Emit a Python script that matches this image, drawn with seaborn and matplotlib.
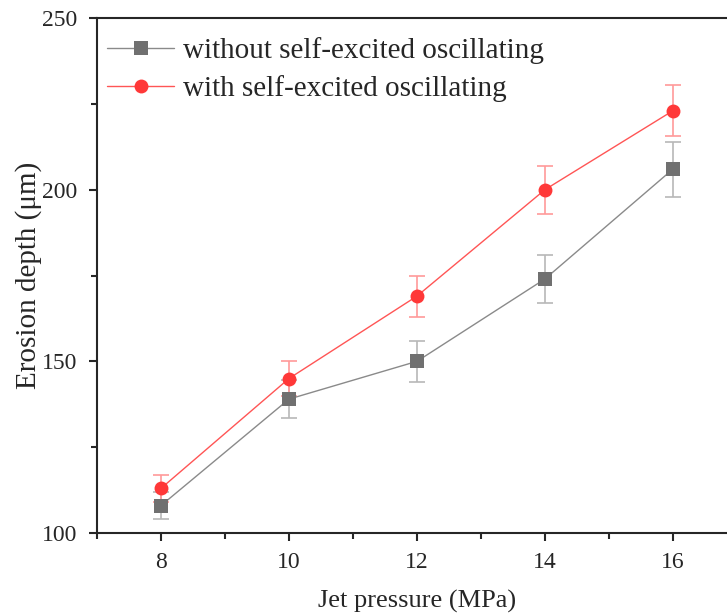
import numpy as np
import pandas as pd
import matplotlib
matplotlib.use("Agg")
import matplotlib.pyplot as plt
from matplotlib.ticker import MultipleLocator
from matplotlib.lines import Line2D
import seaborn as sns

# values
pressure = [8, 10, 12, 14, 16]
depth_without = [108, 139, 150, 174, 206]
err_without = [4, 5.5, 6, 7, 8]
depth_with = [113, 145, 169, 200, 223]
err_with = [4, 5, 6, 7, 7.5]
labels = ["without self-excited oscillating", "with self-excited oscillating"]

df = pd.DataFrame({
    "pressure": pressure * 2,
    "depth": depth_without + depth_with,
    "series": [labels[0]] * 5 + [labels[1]] * 5,
})

sns.set_style("ticks")
plt.rcParams["font.family"] = ["Liberation Serif", "DejaVu Serif"]

fig = plt.figure(figsize=(7.27, 6.16), dpi=100)
ax = fig.add_axes([0.1334, 0.1347, 0.8803, 0.8361])

line_cols = {labels[0]: "#8a8a8a", labels[1]: "#ff5555"}
mark_cols = {labels[0]: "#707070", labels[1]: "#ff3838"}
err_cols = {labels[0]: "#b8b8b8", labels[1]: "#ff9a9a"}

sns.lineplot(data=df, x="pressure", y="depth", hue="series", style="series",
             markers={labels[0]: "s", labels[1]: "o"}, dashes=False,
             palette=line_cols, linewidth=1, markersize=10,
             markeredgewidth=0, ax=ax, legend=False, zorder=3)

for lab, d, e in [(labels[0], depth_without, err_without), (labels[1], depth_with, err_with)]:
    ax.errorbar(pressure, d, yerr=e, fmt="none", ecolor=err_cols[lab],
                elinewidth=1.2, capsize=6, capthick=1.2, zorder=2)

# recolour markers
for line, lab in zip(ax.lines[:2], labels):
    line.set_markerfacecolor(mark_cols[lab])

handles = [
    Line2D([], [], color=line_cols[labels[0]], lw=1, marker="s", ms=10,
           mfc=mark_cols[labels[0]], mew=0),
    Line2D([], [], color=line_cols[labels[1]], lw=1, marker="o", ms=10,
           mfc=mark_cols[labels[1]], mew=0),
]
ax.legend(handles, labels, loc="upper left", frameon=False, fontsize=21,
          handlelength=2.3, handletextpad=0.3, borderaxespad=0.0,
          labelspacing=0.38, bbox_to_anchor=(-0.002, 0.985))

ax.set_xlim(7, 17)
ax.set_ylim(100, 250)
ax.xaxis.set_major_locator(MultipleLocator(2))
ax.xaxis.set_minor_locator(MultipleLocator(1))
ax.yaxis.set_major_locator(MultipleLocator(50))
ax.yaxis.set_minor_locator(MultipleLocator(25))
ax.tick_params(which="major", direction="out", length=6, width=1.5, labelsize=17, pad=8)
ax.tick_params(which="minor", direction="out", length=4, width=1.5)
for s in ax.spines.values():
    s.set_linewidth(1.5)

ax.set_xlabel("Jet pressure (MPa)", fontsize=19, labelpad=12)
ax.set_ylabel("Erosion depth (\u03bcm)", fontsize=21, labelpad=0)

fig.savefig("out.png", dpi=100)
